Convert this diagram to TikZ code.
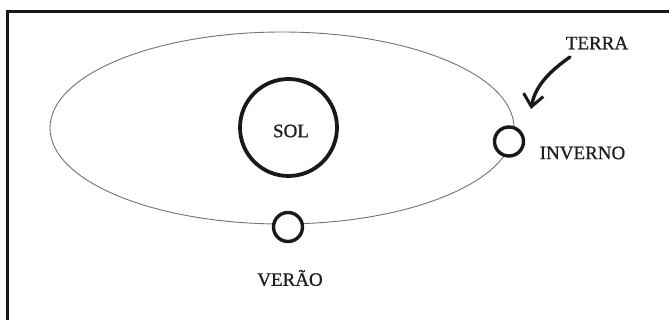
\documentclass[tikz,border=0pt]{standalone}
\usepackage{fontspec}
\setmainfont{Liberation Serif}
\newfontfamily\lblfont[FakeBold=0.8]{Liberation Serif}
\usetikzlibrary{shapes.geometric,arrows.meta}
\begin{document}
\begin{tikzpicture}[x=1pt,y=-1pt,
  frameline/.style={line width=3pt,black!90},
  orbitline/.style={draw=black!55,line width=0.9pt},
  sunbody/.style={circle,draw=black!90,line width=3.8pt,minimum size=97pt,inner sep=0pt,fill=white},
  planet/.style={circle,draw=black!90,line width=3.4pt,minimum size=29pt,inner sep=0pt,fill=white},
  lbl/.style={font=\lblfont\fontsize{19}{22}\selectfont,text=black!88,inner sep=0pt},
  pointer/.style={line width=3.4pt,black!90,line cap=round,-{Straight Barb[length=12pt,width=20pt,line width=3pt]}}
]
\useasboundingbox (0,0) rectangle (669,320);
\fill[white] (0,0) rectangle (669,320);
% frame (top and left edges)
\coordinate (ftr) at (669,12);
\coordinate (ftl) at (7.5,12);
\coordinate (fbl) at (7.5,320);
\draw[frameline] (ftr) -- (ftl) -- (fbl);
% orbit
\node[ellipse,orbitline,minimum width=464pt,minimum height=192pt,inner sep=0pt] (orbit) at (282,128) {};
% sun
\node[sunbody] (sol) at (288.5,127.5) {};
\node[lbl] (sollbl) at (291,131) {SOL};
% planets
\node[planet] (inverno) at (509,141.5) {};
\node[planet] (verao) at (288,227) {};
\node[lbl] (invernolbl) at (582.5,153) {INVERNO};
\node[lbl] (veraolbl) at (290,278) {VERÃO};
\node[lbl] (terra) at (597,43) {TERRA};
% arrow
\coordinate (astart) at (570,57);
\coordinate (atip) at (531,109);
\draw[pointer] (astart) .. controls (550,71) and (535,86) .. (atip);
\end{tikzpicture}
\end{document}
